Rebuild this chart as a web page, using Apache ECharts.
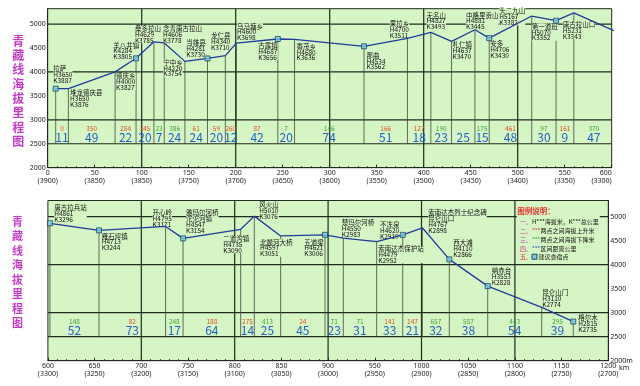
<!DOCTYPE html>
<html><head><meta charset="utf-8">
<script src="https://cdn.jsdelivr.net/npm/echarts@6/dist/echarts.min.js"></script>
<style>html,body{margin:0;padding:0;background:#fff}#c{width:640px;height:386px}</style>
</head><body><div id="c"></div>
<script>
// ---------------- DATA ----------------
const stationNames = ['拉萨','堆龙德庆县','德庆乡','羊八井镇','桑多拉山','念青唐古拉山','宁中乡','当雄县','龙仁县','乌马塘乡','古露镇','香茂乡','那曲','果拉乡','无名山','札仁镇','中格里贡山','安多','头二九山','第一道班','唐古拉山口','唐古拉兵站','雁石坪镇','开心岭','雅玛尔河桥\n沱沱河镇','二道沟镇','风火山','北麓河大桥','五道梁','楚玛尔河桥','索南达杰保护站','不冻泉','索南达杰烈士纪念碑\n昆仑山口','西大滩','纳赤台','昆仑山门','格尔木'];
const stationAlt = [3650,3650,4000,4284,4629,4606,4220,4281,4340,4600,4687,4680,4534,4700,4827,4637,4881,4706,5167,5070,5231,4861,4713,4795,4547,4735,5010,4597,4621,4550,4479,4620,4767,4110,3553,3110,2815];
const stationK = [3887,3876,3827,3805,3785,3778,3754,3730,3710,3698,3656,3636,3562,3511,3493,3470,3445,3430,3382,3352,3343,3296,3244,3171,3154,3090,3076,3051,3006,2983,2952,2919,2898,2866,2828,2774,2735];
const stationKm = [8.5,22,71.7,94,113,124,146,170,189,200.7,244.8,262.6,336.5,382.7,407.6,429.6,454.5,469.7,514.9,540.8,559.7,602.2,654.7,726,744.7,806.4,821,849.2,896.7,916.3,952,979.9,1000.9,1029.8,1070.9,1128.7,1162.5];
const lodging = [1,0,0,1,0,0,0,1,0,0,1,0,1,0,0,0,0,1,0,1,0,1,1,0,1,0,0,0,1,0,0,1,0,1,1,0,1];
const altPrefix = {3: 'K'}; // as printed in the picture
const segDist = [11,49,22,20,7,24,24,20,12,42,20,74,51,18,23,25,15,48,30,9,47,52,73,17,64,14,25,45,23,31,33,21,32,38,54,39];
const segDelta = [0,350,284,345,-23,-386,61,59,260,87,-7,-146,166,127,-190,null,-175,461,-97,161,-370,-148,82,-248,188,275,-413,24,-71,-71,141,147,-657,-557,-443,-295];
const topTicks = ['(3900)','(3850)','(3850)','(3750)','(3700)','(3650)','(3600)','(3550)','(3500)','(3450)','(3400)','(3350)','(3300)'];
const bottomTicks = ['(3300)','(3250)','(3200)','(3150)','(3100)','(3050)','(3000)','(2950)','(2900)','(2850)','(2800)','(2750)','(2700)'];
const hGrid = [5000,4000,3000,2500];
const titleText = '青藏线海拔里程图';

// ---------------- LAYOUT / STYLE ----------------
const labelOffset = [[-2.4,-23],[1.7,1.3],[1,1],[-22.7,-16],[-19,-16],[-1.3,-17],[-21.7,-2],[-21.3,-18.4],[-14.3,-23],[0.7,-20],[-19.6,3.7],[2,4],[2.4,6],[-17.7,-17.4],[-4.3,-20],[1,0.3],[-9,-17.4],[1,2.6],[-32.4,-8],[-24.3,2.7],[-11,8.8],[4.3,-18.4],[2.7,2.8],[-13,-16.5],[3,-28.4],[-17.4,6.6],[5,-14.5],[-20.7,3.3],[-20.7,4.4],[-1.6,-18.3],[1.6,4.3],[-22.7,-13.2],[6,-18],[4,-19.4],[4,-18],[0.6,-17.4],[5,-6.6]];
const DARK = '#1e2b1e';
const BG = '#d6f5c5';
const CJK = '"Noto Sans CJK SC","Noto Sans",sans-serif';
const RED = '#e0502a', GREEN = '#3aa63a', BLUE = '#2262c6';
const axes = [{min:0,max:600,ymax:5320,ticks:topTicks},{min:600,max:1200,ymax:5335,ticks:bottomTicks}];
const bandTop = 3000, bandBottom = 2500;

function inRange(v, gi){ return v >= axes[gi].min && v <= axes[gi].max; }

const series = [];
[0,1].forEach(gi => {
  const ax = axes[gi];
  const base = {type:'custom', xAxisIndex:gi, yAxisIndex:gi, silent:true, animation:false};
  series.push(Object.assign({}, base, {z:1, data: hGrid.map(v=>[ax.min, v]),
    renderItem:(p, api)=>{ const cs=p.coordSys; const y=api.coord([api.value(0), api.value(1)])[1];
      return {type:'line', shape:{x1:cs.x,y1:y,x2:cs.x+cs.width,y2:y}, style:{stroke:DARK, lineWidth:1.2}}; }}));
  const vg=[]; for(let v=ax.min+100; v<ax.max; v+=100) vg.push([v, 2000]);
  series.push(Object.assign({}, base, {z:1, data: vg,
    renderItem:(p, api)=>{ const cs=p.coordSys; const x=api.coord([api.value(0), api.value(1)])[0];
      return {type:'line', shape:{x1:x,y1:cs.y,x2:x,y2:cs.y+cs.height}, style:{stroke:DARK, lineWidth:1.2}}; }}));
  const st = stationKm.map((km,i)=>[km, stationAlt[i], i]).filter(d=>inRange(d[0],gi));
  series.push(Object.assign({}, base, {z:2, data: st,
    renderItem:(p, api)=>{ const a=api.coord([api.value(0),api.value(1)]); const b=api.coord([api.value(0), bandBottom]);
      return {type:'line', shape:{x1:a[0],y1:a[1],x2:b[0],y2:b[1]}, style:{stroke:'#3c4a3c', lineWidth:0.8}}; }}));
  const seg = segDist.map((d,i)=>[(stationKm[i]+stationKm[i+1])/2, d, i]).filter(d=>inRange(d[0],gi));
  series.push(Object.assign({}, base, {z:3, data: seg,
    renderItem:(p, api)=>{ const i=api.value(2); const c=api.coord([api.value(0), bandTop]);
      const children=[{type:'text', style:{text:String(segDist[i]), x:c[0], y:c[1]+17.8, fill:BLUE, fontSize:12, fontFamily:CJK,
        textAlign:'center', textVerticalAlign:'middle', align:'center', verticalAlign:'middle'}}];
      const dl = segDelta[i];
      if (dl !== null) children.push({type:'text', style:{text:String(Math.abs(dl)), x:c[0], y:c[1]+8.5, fill: dl<0?GREEN:RED, fontSize:6.5, fontFamily:CJK,
        textAlign:'center', textVerticalAlign:'middle', align:'center', verticalAlign:'middle'}});
      return {type:'group', children}; }}));
  series.push(Object.assign({}, base, {z:4, data: st,
    renderItem:(p, api)=>{ const i=api.value(2); const c=api.coord([api.value(0),api.value(1)]); const o=labelOffset[i];
      const txt = stationNames[i] + '\n' + (altPrefix[i]||'H') + stationAlt[i] + '\n' + 'K' + stationK[i];
      return {type:'text', style:{text:txt, x:c[0]+o[0], y:c[1]+o[1], fill:'#111', fontSize:6.5, lineHeight:5.8, fontFamily:CJK,
        backgroundColor:BG, textAlign:'left', textVerticalAlign:'top', align:'left', verticalAlign:'top'}}; }}));
  const lineData = [];
  stationKm.forEach((km,i)=>{
    const inside = inRange(km,gi);
    const prevInside = i>0 && inRange(stationKm[i-1],gi);
    if (inside || (prevInside && km > ax.max)) lineData.push([km, stationAlt[i]]);
  });
  series.push({type:'line', xAxisIndex:gi, yAxisIndex:gi, z:5, data: lineData, showSymbol:false, symbol:'none',
    lineStyle:{color:'#1f3b9e', width:1.3}, clip:true, silent:true, animation:false});
  series.push({type:'scatter', xAxisIndex:gi, yAxisIndex:gi, z:6, data: st.filter(d=>lodging[d[2]]).map(d=>[d[0],d[1]]),
    symbol:'rect', symbolSize:5, itemStyle:{color:'#78cde0', borderColor:'#1c4766', borderWidth:1}, silent:true, animation:false});
});

const xAxes = [0,1].map(gi => ({
  type:'value', gridIndex:gi, min:axes[gi].min, max:axes[gi].max, interval:50,
  axisLine:{show:true, onZero:false, lineStyle:{color:DARK, width:1}},
  axisTick:{show:true, inside:true, length:3, lineStyle:{color:DARK}},
  minorTick:{show:true, splitNumber:5, length:1.5, lineStyle:{color:DARK}},
  splitLine:{show:false},
  axisLabel:{fontSize:7, lineHeight:7.5, margin:2, color:'#222', fontFamily:'"Noto Sans",sans-serif', alignMaxLabel: gi===0?'right':null,
    formatter:(v)=> v + '\n' + axes[gi].ticks[Math.round((v-axes[gi].min)/50)]}
}));
const yAxes = [0,1].map(gi => ({
  type:'value', gridIndex:gi, min:2000, max:axes[gi].ymax, interval:500, position: gi===0?'left':'right',
  axisLine:{show:true, lineStyle:{color:DARK}}, axisTick:{show:false}, splitLine:{show:false},
  axisLabel:{fontSize:7, margin:2, color:'#222', showMaxLabel:false, fontFamily:'"Noto Sans",sans-serif',
    formatter:(v)=> (v%500 ? '' : (gi===1 && v===2000 ? '2000m' : String(v)))}
}));

const legendFont = 6;
const graphic = [
  {type:'text', z:100, x:18.3, y:34, style:{text:titleText.split('').join('\n'), fill:'#c63cc6', fontSize:12, fontWeight:'bold', lineHeight:14.3, fontFamily:CJK, textAlign:'center', align:'center', verticalAlign:'top', textVerticalAlign:'top'}},
  {type:'text', z:100, x:17.5, y:214.5, style:{text:titleText.split('').join('\n'), fill:'#c63cc6', fontSize:11, fontWeight:'bold', lineHeight:14.5, fontFamily:CJK, textAlign:'center', align:'center', verticalAlign:'top', textVerticalAlign:'top'}},
  {type:'text', z:100, x:619, y:367.7, style:{text:'km', fill:'#222', fontSize:7, fontFamily:'"Noto Sans",sans-serif', verticalAlign:'middle', textVerticalAlign:'middle'}},
  {type:'rect', z:100, shape:{x:516.8, y:201.5, width:83, height:60}, style:{fill:BG}},
  {type:'text', z:101, x:517.3, y:211, style:{text:'图例说明：', fill:'#e8302a', fontSize:7.5, fontWeight:'bold', fontFamily:CJK, verticalAlign:'middle', textVerticalAlign:'middle'}},
  {type:'text', z:101, x:520, y:221.7, style:{text:'{n|一、}H***海拔米，K***总公里', fill:'#111', fontSize:legendFont, fontFamily:CJK, verticalAlign:'middle', textVerticalAlign:'middle', rich:{n:{fill:'#d0309a', fontSize:legendFont, fontFamily:CJK}}}},
  {type:'text', z:101, x:520, y:231, style:{text:'{n|二、}{r|***}两点之间海拔上升米', fill:'#111', fontSize:legendFont, fontFamily:CJK, verticalAlign:'middle', textVerticalAlign:'middle', rich:{n:{fill:'#d0309a', fontSize:legendFont, fontFamily:CJK}, r:{fill:'#e0302a', fontSize:legendFont, fontFamily:CJK}}}},
  {type:'text', z:101, x:520, y:239.5, style:{text:'{n|三、}{g|***}两点之间海拔下降米', fill:'#111', fontSize:legendFont, fontFamily:CJK, verticalAlign:'middle', textVerticalAlign:'middle', rich:{n:{fill:'#a030c0', fontSize:legendFont, fontFamily:CJK}, g:{fill:'#2aa02a', fontSize:legendFont, fontFamily:CJK}}}},
  {type:'text', z:101, x:520, y:248.3, style:{text:'{n|四、}{b|***}区间距离公里', fill:'#111', fontSize:legendFont, fontFamily:CJK, verticalAlign:'middle', textVerticalAlign:'middle', rich:{n:{fill:'#d0309a', fontSize:legendFont, fontFamily:CJK}, b:{fill:'#2050d0', fontSize:legendFont, fontFamily:CJK}}}},
  {type:'text', z:101, x:520, y:256.7, style:{text:'{n|五、}', fill:'#111', fontSize:legendFont, fontFamily:CJK, verticalAlign:'middle', textVerticalAlign:'middle', rich:{n:{fill:'#e0302a', fontSize:legendFont, fontFamily:CJK}}}},
  {type:'rect', z:101, shape:{x:532, y:254.2, width:5, height:5}, style:{fill:'#78cde0', stroke:'#1c4766', lineWidth:1}},
  {type:'text', z:101, x:538.5, y:256.7, style:{text:'建议食宿点', fill:'#111', fontSize:legendFont, fontFamily:CJK, verticalAlign:'middle', textVerticalAlign:'middle'}}
];

const chart = echarts.init(document.getElementById('c'), null, {renderer:'canvas', width:640, height:386});
chart.setOption({
  animation:false,
  backgroundColor:'#ffffff',
  grid:[
    {left:47.7, top:8.7, width:564, height:159, show:true, backgroundColor:BG, borderColor:DARK, borderWidth:1, containLabel:false},
    {left:47.9, top:200.5, width:560.4, height:160.2, show:true, backgroundColor:BG, borderColor:DARK, borderWidth:1, containLabel:false}
  ],
  xAxis: xAxes,
  yAxis: yAxes,
  series: series,
  graphic: graphic
});
</script>
</body></html>
